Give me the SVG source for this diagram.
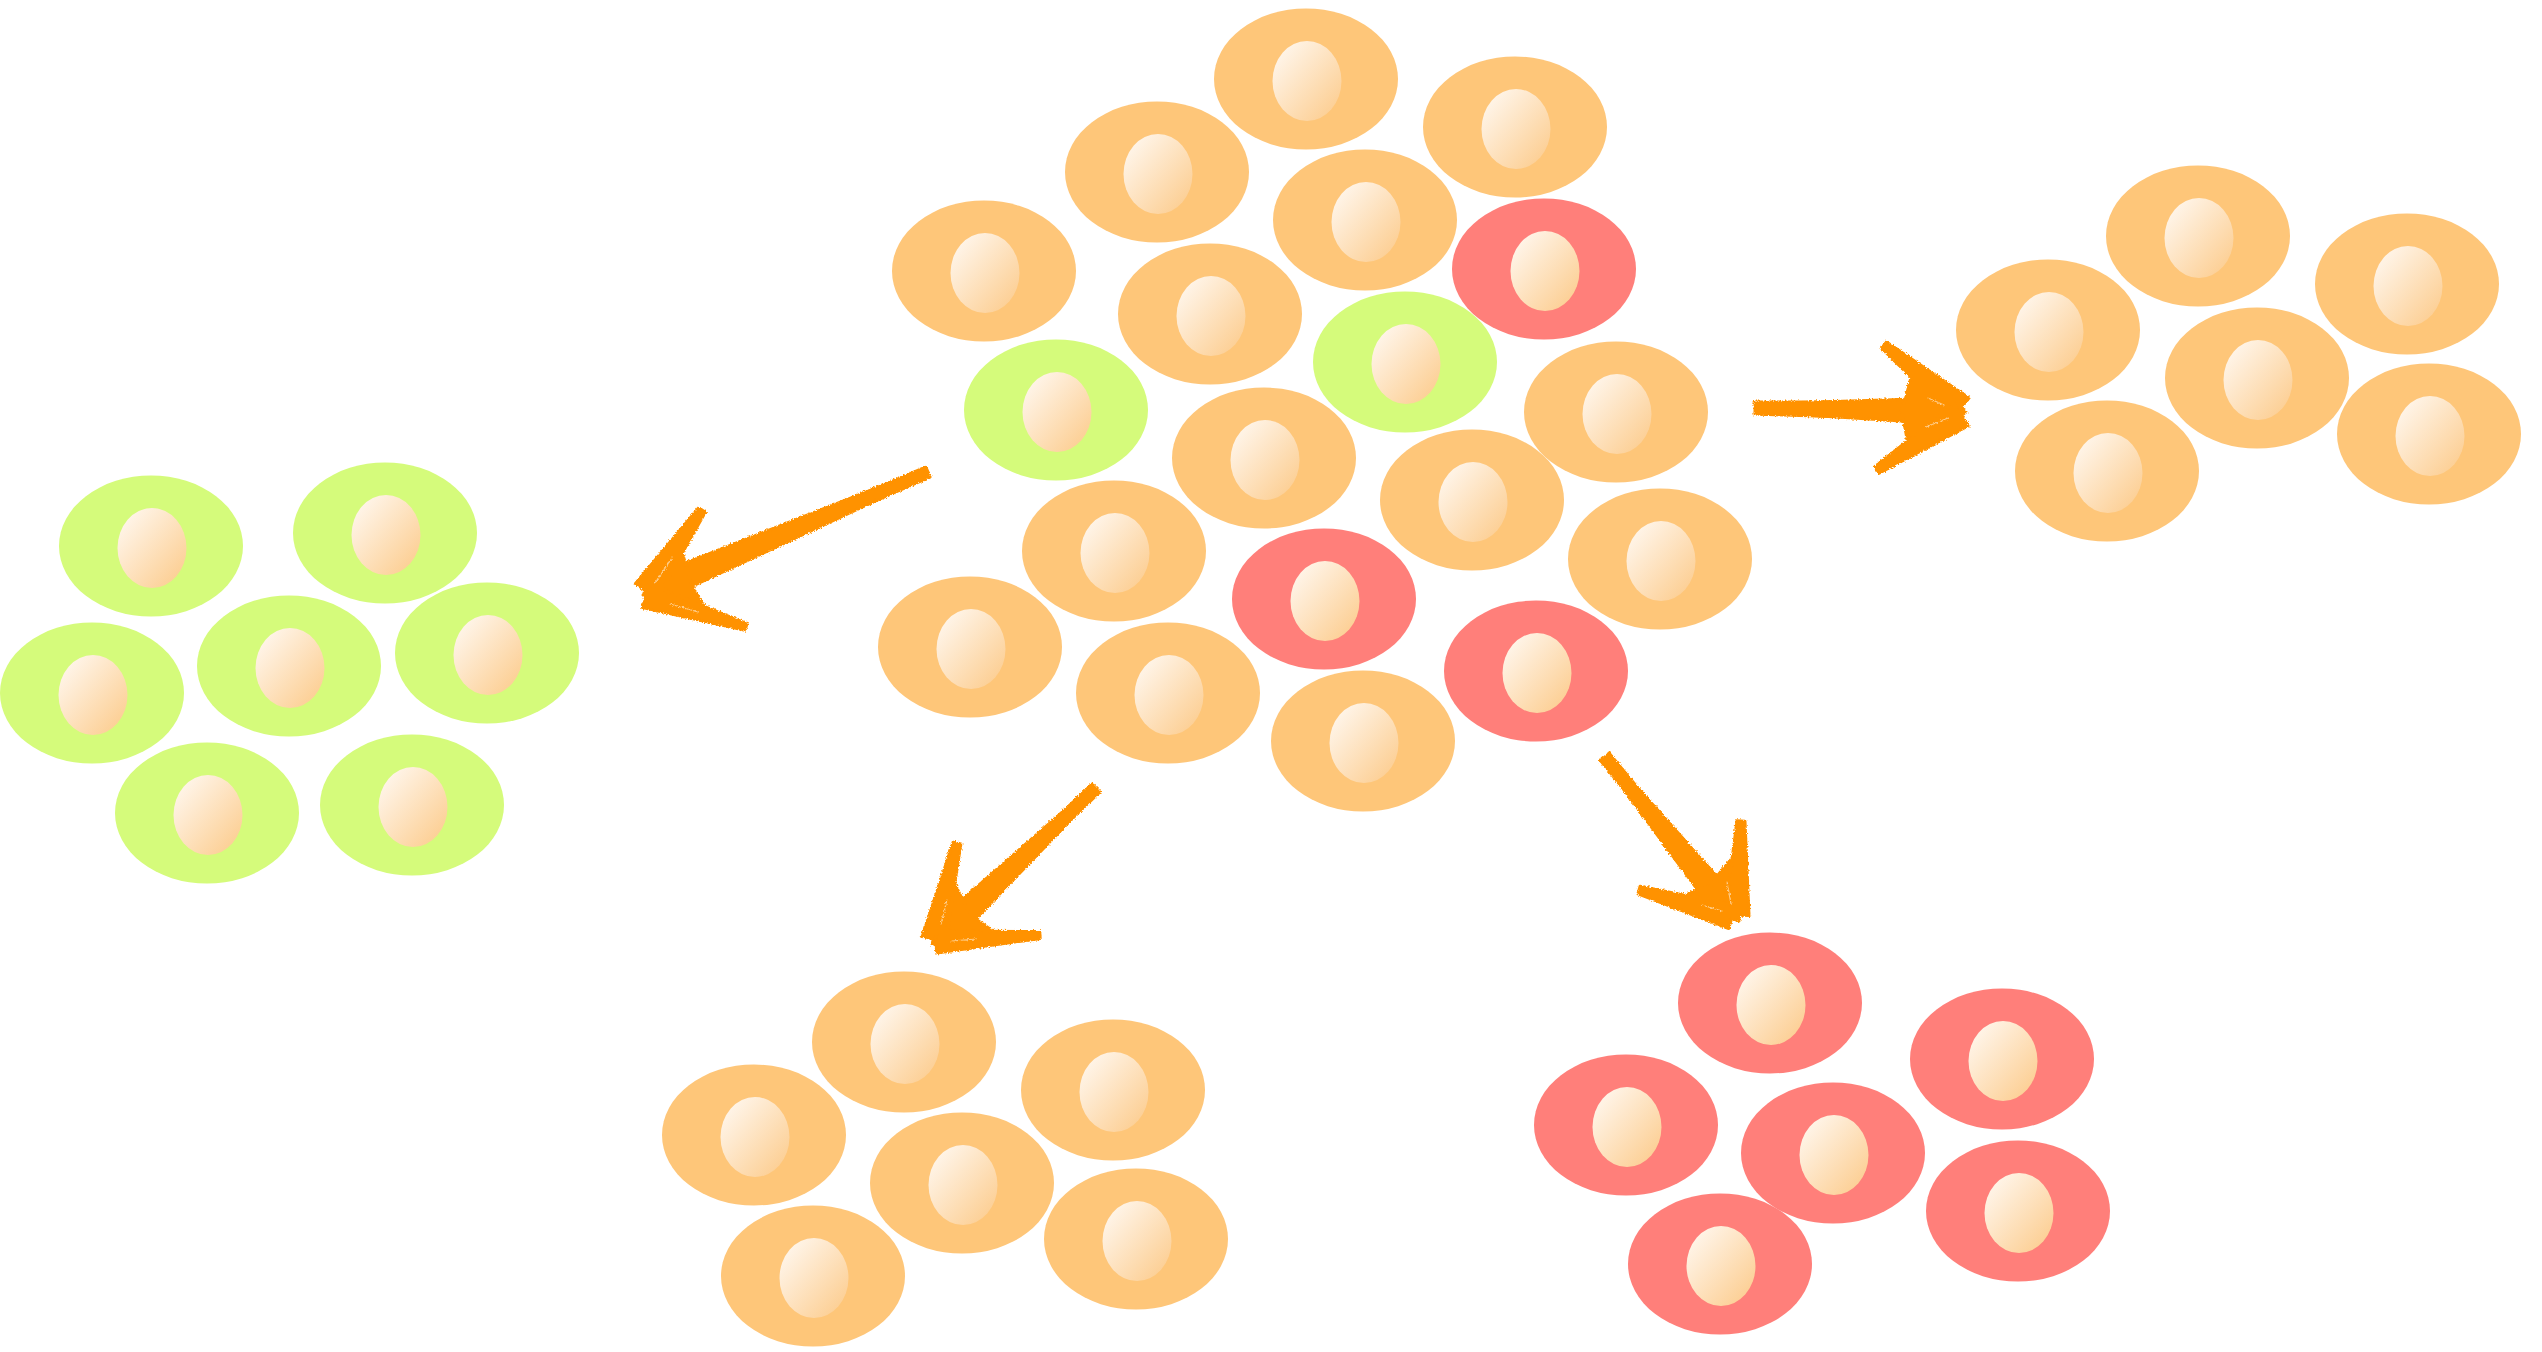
<svg xmlns="http://www.w3.org/2000/svg" width="2542" height="1352" viewBox="0 0 2542 1352">
  <defs>
    <linearGradient id="nucFill" x1="0" y1="0" x2="1" y2="1">
      <stop offset="0.08" stop-color="#fff7ee"/>
      <stop offset="0.92" stop-color="#fccd90"/>
    </linearGradient>
    <filter id="brush" x="-20%" y="-20%" width="140%" height="140%">
      <feTurbulence type="fractalNoise" baseFrequency="0.6" numOctaves="2" seed="7" result="noise"/>
      <feDisplacementMap in="SourceGraphic" in2="noise" scale="4" xChannelSelector="R" yChannelSelector="G"/>
    </filter>
    <style>
      .o { fill: #fec679; }
      .r { fill: #ff7f7a; }
      .g { fill: #d5fb7b; }
      .nuc { fill: url(#nucFill); }
      .stroke { fill: none; stroke: #ff9200; stroke-linecap: round; stroke-linejoin: round; }
      .ink { fill: #ff9200; stroke: #ff9200; stroke-width: 3; stroke-linejoin: round; }
      .streak { fill: none; stroke: #ffffff; stroke-width: 1.2; stroke-linecap: round; opacity: 0.55; }
      .arrow { filter: url(#brush); }
    </style>
  </defs>

  <rect width="2542" height="1352" fill="#ffffff"/>

  <!-- mixed population (centre) -->
  <g id="cluster-mixed">
    <g id="m01" transform="translate(1306,79)"><ellipse class="o" rx="92" ry="70.5"/><ellipse class="nuc" cx="1" cy="2" rx="34.5" ry="40"/></g>
    <g id="m02" transform="translate(1515,127)"><ellipse class="o" rx="92" ry="70.5"/><ellipse class="nuc" cx="1" cy="2" rx="34.5" ry="40"/></g>
    <g id="m03" transform="translate(1157,172)"><ellipse class="o" rx="92" ry="70.5"/><ellipse class="nuc" cx="1" cy="2" rx="34.5" ry="40"/></g>
    <g id="m04" transform="translate(1365,220)"><ellipse class="o" rx="92" ry="70.5"/><ellipse class="nuc" cx="1" cy="2" rx="34.5" ry="40"/></g>
    <g id="m05" transform="translate(1544,269)"><ellipse class="r" rx="92" ry="70.5"/><ellipse class="nuc" cx="1" cy="2" rx="34.5" ry="40"/></g>
    <g id="m06" transform="translate(984,271)"><ellipse class="o" rx="92" ry="70.5"/><ellipse class="nuc" cx="1" cy="2" rx="34.5" ry="40"/></g>
    <g id="m07" transform="translate(1210,314)"><ellipse class="o" rx="92" ry="70.5"/><ellipse class="nuc" cx="1" cy="2" rx="34.5" ry="40"/></g>
    <g id="m08" transform="translate(1405,362)"><ellipse class="g" rx="92" ry="70.5"/><ellipse class="nuc" cx="1" cy="2" rx="34.5" ry="40"/></g>
    <g id="m09" transform="translate(1056,410)"><ellipse class="g" rx="92" ry="70.5"/><ellipse class="nuc" cx="1" cy="2" rx="34.5" ry="40"/></g>
    <g id="m10" transform="translate(1616,412)"><ellipse class="o" rx="92" ry="70.5"/><ellipse class="nuc" cx="1" cy="2" rx="34.5" ry="40"/></g>
    <g id="m11" transform="translate(1264,458)"><ellipse class="o" rx="92" ry="70.5"/><ellipse class="nuc" cx="1" cy="2" rx="34.5" ry="40"/></g>
    <g id="m12" transform="translate(1472,500)"><ellipse class="o" rx="92" ry="70.5"/><ellipse class="nuc" cx="1" cy="2" rx="34.5" ry="40"/></g>
    <g id="m13" transform="translate(1114,551)"><ellipse class="o" rx="92" ry="70.5"/><ellipse class="nuc" cx="1" cy="2" rx="34.5" ry="40"/></g>
    <g id="m14" transform="translate(1660,559)"><ellipse class="o" rx="92" ry="70.5"/><ellipse class="nuc" cx="1" cy="2" rx="34.5" ry="40"/></g>
    <g id="m15" transform="translate(1324,599)"><ellipse class="r" rx="92" ry="70.5"/><ellipse class="nuc" cx="1" cy="2" rx="34.5" ry="40"/></g>
    <g id="m16" transform="translate(970,647)"><ellipse class="o" rx="92" ry="70.5"/><ellipse class="nuc" cx="1" cy="2" rx="34.5" ry="40"/></g>
    <g id="m17" transform="translate(1536,671)"><ellipse class="r" rx="92" ry="70.5"/><ellipse class="nuc" cx="1" cy="2" rx="34.5" ry="40"/></g>
    <g id="m18" transform="translate(1168,693)"><ellipse class="o" rx="92" ry="70.5"/><ellipse class="nuc" cx="1" cy="2" rx="34.5" ry="40"/></g>
    <g id="m19" transform="translate(1363,741)"><ellipse class="o" rx="92" ry="70.5"/><ellipse class="nuc" cx="1" cy="2" rx="34.5" ry="40"/></g>
  </g>

  <!-- green population (left) -->
  <g id="cluster-green">
    <g id="g1" transform="translate(385,533)"><ellipse class="g" rx="92" ry="70.5"/><ellipse class="nuc" cx="1" cy="2" rx="34.5" ry="40"/></g>
    <g id="g2" transform="translate(151,546)"><ellipse class="g" rx="92" ry="70.5"/><ellipse class="nuc" cx="1" cy="2" rx="34.5" ry="40"/></g>
    <g id="g3" transform="translate(487,653)"><ellipse class="g" rx="92" ry="70.5"/><ellipse class="nuc" cx="1" cy="2" rx="34.5" ry="40"/></g>
    <g id="g4" transform="translate(289,666)"><ellipse class="g" rx="92" ry="70.5"/><ellipse class="nuc" cx="1" cy="2" rx="34.5" ry="40"/></g>
    <g id="g5" transform="translate(92,693)"><ellipse class="g" rx="92" ry="70.5"/><ellipse class="nuc" cx="1" cy="2" rx="34.5" ry="40"/></g>
    <g id="g6" transform="translate(412,805)"><ellipse class="g" rx="92" ry="70.5"/><ellipse class="nuc" cx="1" cy="2" rx="34.5" ry="40"/></g>
    <g id="g7" transform="translate(207,813)"><ellipse class="g" rx="92" ry="70.5"/><ellipse class="nuc" cx="1" cy="2" rx="34.5" ry="40"/></g>
  </g>

  <!-- orange population (right) -->
  <g id="cluster-orange-right">
    <g id="ro1" transform="translate(2198,236)"><ellipse class="o" rx="92" ry="70.5"/><ellipse class="nuc" cx="1" cy="2" rx="34.5" ry="40"/></g>
    <g id="ro2" transform="translate(2407,284)"><ellipse class="o" rx="92" ry="70.5"/><ellipse class="nuc" cx="1" cy="2" rx="34.5" ry="40"/></g>
    <g id="ro3" transform="translate(2048,330)"><ellipse class="o" rx="92" ry="70.5"/><ellipse class="nuc" cx="1" cy="2" rx="34.5" ry="40"/></g>
    <g id="ro4" transform="translate(2257,378)"><ellipse class="o" rx="92" ry="70.5"/><ellipse class="nuc" cx="1" cy="2" rx="34.5" ry="40"/></g>
    <g id="ro5" transform="translate(2429,434)"><ellipse class="o" rx="92" ry="70.5"/><ellipse class="nuc" cx="1" cy="2" rx="34.5" ry="40"/></g>
    <g id="ro6" transform="translate(2107,471)"><ellipse class="o" rx="92" ry="70.5"/><ellipse class="nuc" cx="1" cy="2" rx="34.5" ry="40"/></g>
  </g>

  <!-- orange population (bottom) -->
  <g id="cluster-orange-bottom">
    <g id="bo1" transform="translate(904,1042)"><ellipse class="o" rx="92" ry="70.5"/><ellipse class="nuc" cx="1" cy="2" rx="34.5" ry="40"/></g>
    <g id="bo2" transform="translate(1113,1090)"><ellipse class="o" rx="92" ry="70.5"/><ellipse class="nuc" cx="1" cy="2" rx="34.5" ry="40"/></g>
    <g id="bo3" transform="translate(754,1135)"><ellipse class="o" rx="92" ry="70.5"/><ellipse class="nuc" cx="1" cy="2" rx="34.5" ry="40"/></g>
    <g id="bo4" transform="translate(962,1183)"><ellipse class="o" rx="92" ry="70.5"/><ellipse class="nuc" cx="1" cy="2" rx="34.5" ry="40"/></g>
    <g id="bo5" transform="translate(1136,1239)"><ellipse class="o" rx="92" ry="70.5"/><ellipse class="nuc" cx="1" cy="2" rx="34.5" ry="40"/></g>
    <g id="bo6" transform="translate(813,1276)"><ellipse class="o" rx="92" ry="70.5"/><ellipse class="nuc" cx="1" cy="2" rx="34.5" ry="40"/></g>
  </g>

  <!-- red population (bottom right) -->
  <g id="cluster-red">
    <g id="rr1" transform="translate(1770,1003)"><ellipse class="r" rx="92" ry="70.5"/><ellipse class="nuc" cx="1" cy="2" rx="34.5" ry="40"/></g>
    <g id="rr2" transform="translate(2002,1059)"><ellipse class="r" rx="92" ry="70.5"/><ellipse class="nuc" cx="1" cy="2" rx="34.5" ry="40"/></g>
    <g id="rr3" transform="translate(1626,1125)"><ellipse class="r" rx="92" ry="70.5"/><ellipse class="nuc" cx="1" cy="2" rx="34.5" ry="40"/></g>
    <g id="rr4" transform="translate(1833,1153)"><ellipse class="r" rx="92" ry="70.5"/><ellipse class="nuc" cx="1" cy="2" rx="34.5" ry="40"/></g>
    <g id="rr5" transform="translate(2018,1211)"><ellipse class="r" rx="92" ry="70.5"/><ellipse class="nuc" cx="1" cy="2" rx="34.5" ry="40"/></g>
    <g id="rr6" transform="translate(1720,1264)"><ellipse class="r" rx="92" ry="70.5"/><ellipse class="nuc" cx="1" cy="2" rx="34.5" ry="40"/></g>
  </g>

  <!-- brush-stroke arrows: tapered shaft, two tapered barbs and a filled head core -->
  <g id="connectors">
    <!-- to the green population -->
    <g id="arrow-left" class="arrow">
      <path class="stroke" stroke-width="3" d="M930,477 L700,577 M926,467 L690,567"/>
      <path class="ink" d="M926.4,468.3 L929.6,475.7 L667.1,598 L656.9,574.1 Z"/>
      <path class="ink" d="M643,595 L679,543 L692,586 L710,616 Z"/>
      <path class="ink" d="M635.3,583.6 L656.7,598.4 L705.3,512.3 L698.7,507.7 Z"/>
      <path class="ink" d="M649.6,584.5 L642.4,607.5 L745,630.3 L747,623.7 Z"/>
      <path class="streak" d="M655,583 L672,558 M670,604 L698,612"/>
    </g>

    <!-- to the orange population -->
    <g id="arrow-right" class="arrow">
      <path class="stroke" stroke-width="3" d="M1754,402 L1880,402 M1754,414 L1880,418"/>
      <path class="ink" d="M1755,404 L1755,412 L1950,424 L1950,398 Z"/>
      <path class="ink" d="M1966,412 L1914,366 L1902,412 L1910,455 Z"/>
      <path class="ink" d="M1969.2,397.9 L1952.8,418.1 L1881.5,348.1 L1886.5,341.9 Z"/>
      <path class="ink" d="M1953.9,404.1 L1968.1,425.9 L1879.2,473.3 L1874.8,466.7 Z"/>
      <path class="streak" d="M1928,398 L1944,405 M1926,427 L1948,418"/>
    </g>

    <!-- to the red population -->
    <g id="arrow-bottom-right" class="arrow">
      <path class="stroke" stroke-width="3" d="M1600,760 L1700,884 M1609,753 L1712,878"/>
      <path class="ink" d="M1608.1,754.5 L1601.9,759.5 L1713.9,912.2 L1734.1,895.8 Z"/>
      <path class="ink" d="M1739,921 L1739,850 L1712,882 L1680,898 Z"/>
      <path class="ink" d="M1725,914.5 L1749,915.5 L1745,821.2 L1737,820.8 Z"/>
      <path class="ink" d="M1735.3,905.5 L1728.7,928.5 L1637.9,893.8 L1640.1,886.2 Z"/>
      <path class="streak" d="M1727,882 L1731,904 M1702,905 L1722,911"/>
    </g>

    <!-- to the lower orange population -->
    <g id="arrow-bottom-left" class="arrow">
      <path class="stroke" stroke-width="3" d="M1100,792 L985,902 M1092,784 L972,898"/>
      <path class="ink" d="M1093.2,785.1 L1098.8,790.9 L955,940.4 L937,921.6 Z"/>
      <path class="ink" d="M932,944 L950,874 L970,915 L1000,936 Z"/>
      <path class="ink" d="M922.3,936.2 L945.7,941.8 L960.9,843.9 L953.1,842.1 Z"/>
      <path class="ink" d="M935.3,931 L936.7,953 L1040.2,938.5 L1039.8,931.5 Z"/>
      <path class="streak" d="M941,924 L947,900 M952,941 L976,939"/>
    </g>
  </g>
</svg>
